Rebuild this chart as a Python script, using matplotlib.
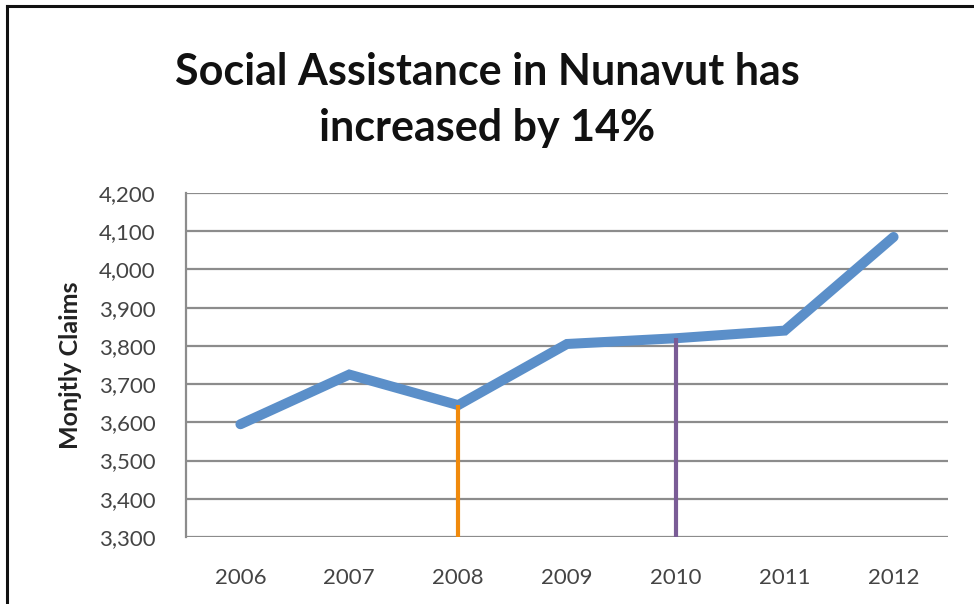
import matplotlib
matplotlib.use("Agg")
import matplotlib.pyplot as plt

years = ["2006", "2007", "2008", "2009", "2010", "2011", "2012"]
claims = [3595, 3725, 3645, 3805, 3820, 3840, 4085]
highlight_years = ["2008", "2010"]
highlight_colors = ["#F08A0C", "#7A5C96"]
y_ticks = [3300, 3400, 3500, 3600, 3700, 3800, 3900, 4000, 4100, 4200]

plt.rcParams["font.family"] = ["Lato", "DejaVu Sans"]

fig = plt.figure(figsize=(9.74, 6.04), dpi=100)
ax = fig.add_axes([186 / 974, 1 - 537 / 604, (948 - 186) / 974, (537 - 193) / 604])

x = list(range(len(years)))
ax.plot(x, claims, color="#5B8FC9", lw=7.2, solid_capstyle="round",
        solid_joinstyle="miter", zorder=3)

for yr, col in zip(highlight_years, highlight_colors):
    i = years.index(yr)
    ax.vlines(i, y_ticks[0], claims[i], color=col, lw=3, zorder=4)

ax.set_xlim(-0.5, len(years) - 0.5)
ax.set_ylim(y_ticks[0], y_ticks[-1])
ax.set_yticks(y_ticks)
ax.set_yticklabels([f"{v:,}" for v in y_ticks])
ax.set_xticks(x)
ax.set_xticklabels(years)
ax.tick_params(axis="both", length=0, labelsize=16, colors="#444444")
ax.tick_params(axis="y", pad=22)
ax.tick_params(axis="x", pad=22)
ax.yaxis.grid(True, color="#8C8C8C", lw=1.6)
ax.set_axisbelow(True)
for s in ["top", "right", "bottom"]:
    ax.spines[s].set_visible(False)
ax.spines["left"].set_color("#8C8C8C")
ax.spines["left"].set_linewidth(1.6)

ax.set_ylabel("Monjtly Claims", fontsize=18, fontweight="bold", color="#222222",
              labelpad=12)

fig.text(0.5, 1 - 72 / 604, "Social Assistance in Nunavut has", ha="center",
         va="center", fontsize=31, fontweight="bold", color="#111111")
fig.text(0.5, 1 - 128 / 604, "increased by 14%", ha="center",
         va="center", fontsize=31, fontweight="bold", color="#111111")

# outer frame (left and top edges)
fig.add_artist(plt.Line2D([7 / 974, 7 / 974], [0, 1 - 6 / 604], color="#111111",
                          lw=2.2, transform=fig.transFigure))
fig.add_artist(plt.Line2D([7 / 974, 1], [1 - 6 / 604, 1 - 6 / 604], color="#111111",
                          lw=2.2, transform=fig.transFigure))

fig.savefig("out.png", dpi=100)
